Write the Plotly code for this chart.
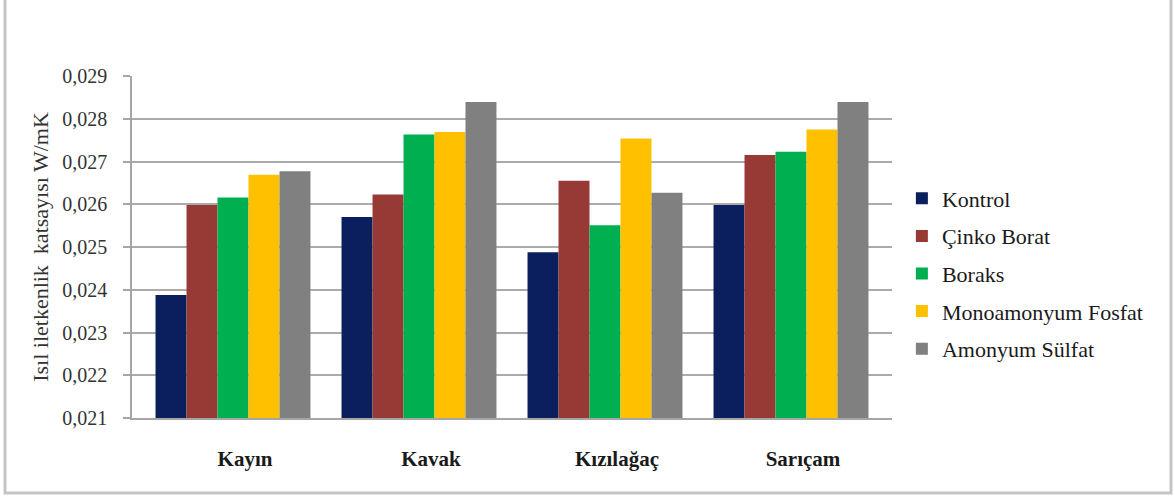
import plotly.graph_objects as go

# Wood species on the category axis
species = ["Kayın", "Kavak", "Kızılağaç", "Sarıçam"]

# Thermal conductivity (W/mK) per treatment
kontrol = [0.02388, 0.02570, 0.02488, 0.02598]
cinko_borat = [0.02598, 0.02623, 0.02655, 0.02715]
boraks = [0.02616, 0.02763, 0.02551, 0.02723]
monoamonyum_fosfat = [0.02669, 0.02769, 0.02754, 0.02775]
amonyum_sulfat = [0.02677, 0.02839, 0.02627, 0.02839]

series_names = ["Kontrol", "Çinko Borat", "Boraks", "Monoamonyum Fosfat", "Amonyum Sülfat"]
series_values = [kontrol, cinko_borat, boraks, monoamonyum_fosfat, amonyum_sulfat]
series_colors = ["#0b1f5e", "#973a36", "#00b050", "#ffc000", "#808080"]

y_ticks = [0.021, 0.022, 0.023, 0.024, 0.025, 0.026, 0.027, 0.028, 0.029]

SERIF = "Liberation Serif, Times New Roman, serif"

fig = go.Figure()
for name, vals, col in zip(series_names, series_values, series_colors):
    fig.add_trace(go.Bar(
        x=species, y=vals, name=name, legendgroup=name,
        marker=dict(color=col, line=dict(width=0)),
    ))

fig.update_layout(
    width=1175, height=497,
    margin=dict(l=132, r=283, t=76, b=79),
    paper_bgcolor="white", plot_bgcolor="white",
    barmode="group", bargap=0.167, bargroupgap=0,
    separators=",.",
    font=dict(family=SERIF, size=20, color="#262626"),
    showlegend=True,
    legend=dict(
        x=1.013, xanchor="left", y=0.4225, yanchor="middle",
        font=dict(family=SERIF, size=22, color="#1a1a1a"),
        tracegroupgap=6, bgcolor="rgba(0,0,0,0)",
    ),
    xaxis=dict(
        type="category", range=[-0.543, 3.543],
        showline=True, linecolor="#a6a6a6", linewidth=1.5,
        showgrid=False, ticks="",
        tickfont=dict(family=SERIF, size=21, color="#1a1a1a", weight="bold"),
        ticklabelstandoff=21, ticklabelshift=12,
        automargin=False,
    ),
    yaxis=dict(
        range=[0.021, 0.029], tickvals=y_ticks, tickformat=".3f",
        showline=True, linecolor="#a6a6a6", linewidth=1.5,
        showgrid=True, gridcolor="#ababab", gridwidth=1.5,
        ticks="outside", ticklen=7, tickcolor="#a6a6a6", tickwidth=1.5,
        tickfont=dict(family=SERIF, size=20, color="#333333"),
        ticklabelstandoff=12,
        title=dict(text="Isıl iletkenlik  katsayısı W/mK",
                   font=dict(family=SERIF, size=22, color="#333333"),
                   standoff=8),
        automargin=False, zeroline=False,
    ),
    shapes=[dict(
        type="rect", xref="paper", yref="paper",
        x0=-0.1671, x1=1.3671, y0=-0.2193, y1=1.25,
        line=dict(color="#c4c4c4", width=3), layer="below",
    )],
)

fig.write_html("out.html")
